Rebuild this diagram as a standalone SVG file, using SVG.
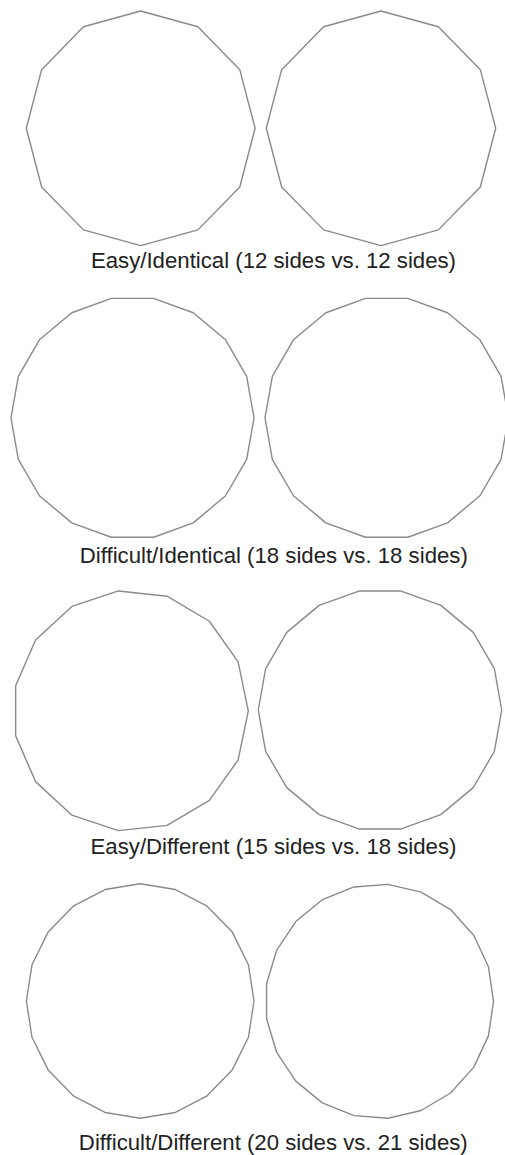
<svg xmlns="http://www.w3.org/2000/svg" width="505" height="1155" viewBox="0 0 505 1155">
<style>
.poly{fill:none;stroke:#8a8a8a;stroke-width:1.4;stroke-linejoin:round;vector-effect:non-scaling-stroke}
.lbl{font-family:"Liberation Sans",Arial,sans-serif;font-size:22.2px;fill:#222;text-anchor:middle}
</style>
<defs>
<polygon id="p12" class="poly" points="0,-100 50,-86.603 86.603,-50 100,0 86.603,50 50,86.603 0,100 -50,86.603 -86.603,50 -100,0 -86.603,-50 -50,-86.603"/>
<polygon id="p18" class="poly" points="17.365,-98.481 50,-86.603 76.604,-64.279 93.969,-34.202 100,0 93.969,34.202 76.604,64.279 50,86.603 17.365,98.481 -17.365,98.481 -50,86.603 -76.604,64.279 -93.969,34.202 -100,0 -93.969,-34.202 -76.604,-64.279 -50,-86.603 -17.365,-98.481"/>
<polygon id="p15" class="poly" points="100,0 91.355,-40.674 66.913,-74.314 30.902,-95.106 -10.453,-99.452 -50,-86.603 -80.902,-58.779 -97.815,-20.791 -97.815,20.791 -80.902,58.779 -50,86.603 -10.453,99.452 30.902,95.106 66.913,74.314 91.355,40.674"/>
<polygon id="p20" class="poly" points="0,-100 30.902,-95.106 58.779,-80.902 80.902,-58.779 95.106,-30.902 100,0 95.106,30.902 80.902,58.779 58.779,80.902 30.902,95.106 0,100 -30.902,95.106 -58.779,80.902 -80.902,58.779 -95.106,30.902 -100,0 -95.106,-30.902 -80.902,-58.779 -58.779,-80.902 -30.902,-95.106"/>
<polygon id="p21" class="poly" points="100,0 95.557,-29.476 82.624,-56.332 62.349,-78.183 36.534,-93.087 7.473,-99.72 -22.252,-97.493 -50,-86.603 -73.305,-68.017 -90.097,-43.388 -98.883,-14.904 -98.883,14.904 -90.097,43.388 -73.305,68.017 -50,86.603 -22.252,97.493 7.473,99.72 36.534,93.087 62.349,78.183 82.624,56.332 95.557,29.476"/>
</defs>
<rect width="505" height="1155" fill="#fff"/>
<g id="row1">
<g id="row1-left"><use href="#p12" transform="translate(140.7,128.3) scale(1.144,1.173)"/></g>
<g id="row1-right"><use href="#p12" transform="translate(381,128.3) scale(1.147,1.173)"/></g>
<text id="label1" class="lbl" x="273.5" y="267.5">Easy/Identical (12 sides vs. 12 sides)</text>
</g>
<g id="row2">
<g id="row2-left"><use href="#p18" transform="translate(132.5,417.8) scale(1.215,1.213)"/></g>
<g id="row2-right"><use href="#p18" transform="translate(386.7,417.8) scale(1.217,1.213)"/></g>
<text id="label2" class="lbl" x="273.8" y="562.5">Difficult/Identical (18 sides vs. 18 sides)</text>
</g>
<g id="row3">
<g id="row3-left"><use href="#p15" transform="translate(130.7,710.8) scale(1.176,1.205)"/></g>
<g id="row3-right"><use href="#p18" transform="translate(380,710) scale(1.217,1.208)"/></g>
<text id="label3" class="lbl" x="273.5" y="854">Easy/Different (15 sides vs. 18 sides)</text>
</g>
<g id="row4">
<g id="row4-left"><use href="#p20" transform="translate(140.2,1001) scale(1.138,1.172)"/></g>
<g id="row4-right"><use href="#p21" transform="translate(379.4,1001.3) scale(1.141,1.173)"/></g>
<text id="label4" class="lbl" x="273.3" y="1150">Difficult/Different (20 sides vs. 21 sides)</text>
</g>
</svg>
